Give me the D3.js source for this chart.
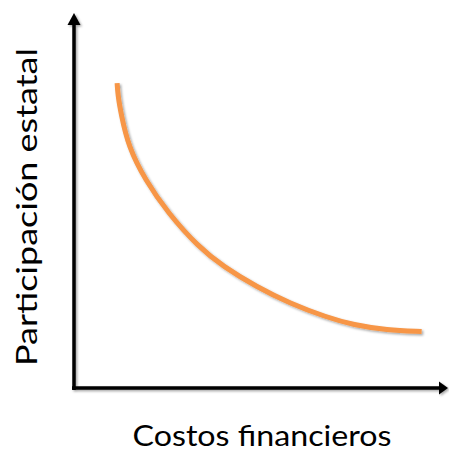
<!DOCTYPE html>
<html>
<head>
<meta charset="utf-8">
<script src="https://cdn.jsdelivr.net/npm/d3@7"></script>
<style>
  body { margin: 0; background: #fff; }
  text { font-family: Lato, "Open Sans", sans-serif; fill: #000; }
</style>
</head>
<body>
<div id="chart"></div>
<script>
"use strict";

// curve (0..100 on both axes)
var costos = [11.5, 11.7, 12.5, 14.5, 19.0, 25.1, 33.1, 39.8, 48.7, 57.6, 67.4, 74.5, 83.4, 92.7];
var participacion = [81.1, 78.0, 73.1, 64.2, 55.3, 46.5, 37.6, 32.3, 26.9, 22.5, 18.8, 16.8, 15.4, 15.0];

var xLabel = "Costos financieros";
var yLabel = "Participación estatal";

var width = 449, height = 451;

var svg = d3.select("#chart").append("svg")
	.attr("width", width)
	.attr("height", height);

// soft office-style shadow
var defs = svg.append("defs");
var f = defs.append("filter").attr("id", "shadow")
	.attr("x", "-10%").attr("y", "-10%").attr("width", "130%").attr("height", "130%");
f.append("feDropShadow")
	.attr("dx", 1.5).attr("dy", 1.5).attr("stdDeviation", 1.2)
	.attr("flood-color", "#000").attr("flood-opacity", 0.35);

var x = d3.scaleLinear().domain([0, 100]).range([74, 449]);
var y = d3.scaleLinear().domain([0, 100]).range([388, 12]);

// axes with arrows
var axes = svg.append("g").attr("filter", "url(#shadow)");

axes.append("line")
	.attr("x1", x(0)).attr("y1", y(0) + 2)
	.attr("x2", x(0)).attr("y2", y(100) + 10)
	.attr("stroke", "#000").attr("stroke-width", 3.5);
axes.append("path")
	.attr("d", "M" + x(0) + "," + (y(100) + 1) + "l-6.5,12h13z")
	.attr("fill", "#000");

axes.append("line")
	.attr("x1", x(0) - 2).attr("y1", y(0))
	.attr("x2", x(100) - 6).attr("y2", y(0))
	.attr("stroke", "#000").attr("stroke-width", 3.5);
axes.append("path")
	.attr("d", "M" + (x(100) - 1) + "," + y(0) + "l-9,-6.5v13z")
	.attr("fill", "#000");

// the curve
var pts = costos.map(function (c, i) { return [c, participacion[i]]; });

var line = d3.line()
	.x(function (d) { return x(d[0]); })
	.y(function (d) { return y(d[1]); })
	.curve(d3.curveBasis);

svg.append("path")
	.datum(pts)
	.attr("d", line)
	.attr("fill", "none")
	.attr("stroke", "#F79646")
	.attr("stroke-width", 5)
	.attr("filter", "url(#shadow)");

// labels
svg.append("text")
	.attr("x", 262).attr("y", 446)
	.attr("text-anchor", "middle")
	.attr("font-size", 28)
	.attr("textLength", 259)
	.attr("lengthAdjust", "spacingAndGlyphs")
	.text(xLabel);

svg.append("text")
	.attr("transform", "translate(37,207) rotate(-90)")
	.attr("text-anchor", "middle")
	.attr("font-size", 28)
	.attr("textLength", 318)
	.attr("lengthAdjust", "spacingAndGlyphs")
	.text(yLabel);
</script>
</body>
</html>
